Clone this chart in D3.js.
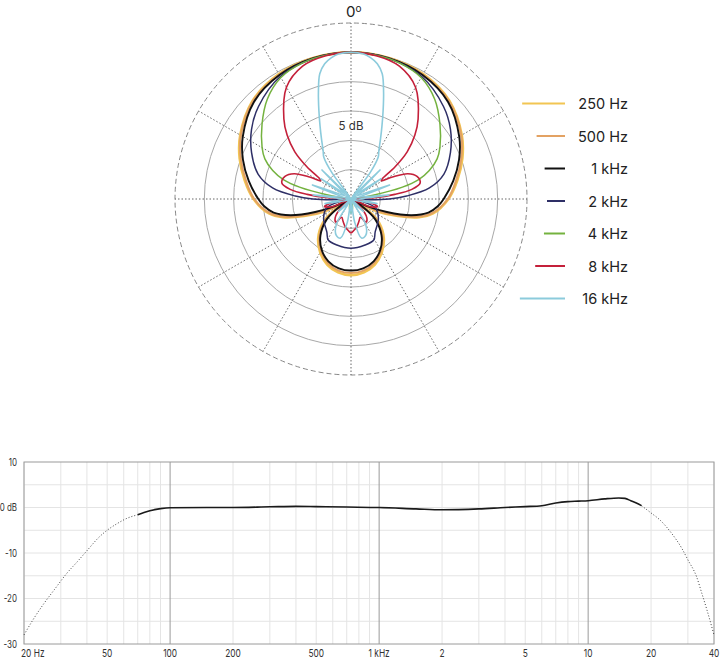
<!DOCTYPE html>
<html>
<head>
<meta charset="utf-8">
<script src="https://cdn.jsdelivr.net/npm/d3@7"></script>
<style>
  html, body { margin: 0; padding: 0; background: #fff; }
  svg { display: block; font-family: Inter, "Noto Sans", sans-serif; }
</style>
</head>
<body>
<svg id="chart" width="720" height="659"></svg>
<script>
// ---------------- DATA ----------------
// Polar pattern: [angle in degrees (0 = front), level in dB], right half (0..180), mirrored for the left half
const seriesLabels = ["250 Hz", "500 Hz", "1 kHz", "2 kHz", "4 kHz", "8 kHz", "16 kHz"];
const pattern250 = [[0,0],[15,-0.1],[30,-0.4],[45,-1.3],[60,-3.2],[70,-4.8],[80,-6.6],[90,-8.4],[100,-10.8],[105,-13],[110,-16.5],[115,-20],[120,-25],[125,-21],[130,-18.8],[140,-16.3],[150,-14.5],[160,-13.1],[170,-12.3],[180,-12]];
const pattern500 = [[0,0],[15,-0.1],[30,-0.5],[45,-1.4],[60,-3.3],[70,-5],[80,-6.8],[90,-8.5],[100,-11],[105,-13.3],[110,-17],[115,-21],[119,-25],[125,-21.5],[130,-19.2],[140,-16.6],[150,-14.8],[160,-13.4],[170,-12.6],[180,-12.4]];
const pattern1k = [[0,0],[15,-0.15],[30,-0.6],[45,-1.6],[60,-3.7],[70,-5.4],[80,-7.3],[90,-9.2],[95,-10.2],[100,-11.6],[105,-14.3],[110,-18.5],[114,-22],[118,-25],[124,-22.5],[130,-19.6],[140,-16.9],[150,-15],[160,-13.7],[170,-13],[180,-12.8]];
const pattern2k = [[0,0],[15,-0.2],[30,-0.9],[45,-2.7],[55,-4.3],[65,-6.3],[75,-8.6],[82,-11.5],[87,-15.5],[90,-18.5],[93,-23],[96,-25],[104,-22.5],[110,-20.6],[125,-19.3],[144,-18],[151,-17],[163,-16.8],[180,-16.6]];
const pattern4k = [[0,0],[10,-0.1],[20,-0.4],[30,-1.1],[40,-2.8],[50,-5.2],[60,-7.5],[65,-8.8],[70,-10.8],[74,-13],[77,-16],[80,-21],[83,-25],[100,-25],[160,-25],[170,-23.5],[180,-22.6]];
const pattern8k = [[0,0],[10,-0.2],[20,-0.9],[30,-3],[40,-7.2],[45,-9.6],[50,-12.5],[54,-15.8],[57,-18.6],[59,-19],[62,-17],[66,-14.4],[71,-13.1],[77,-12.9],[81,-14.5],[84,-17.5],[87,-21],[90,-25],[100,-22],[106,-20.3],[112,-21.5],[118,-25],[130,-23],[140,-20.8],[147,-20.3],[153,-21.5],[160,-21],[168,-20.2],[175,-19.6],[180,-19.2]];
const pattern16k = [[0,0],[5,-0.2],[8,-0.7],[11,-1.5],[14,-3],[17,-6],[20,-9],[23,-11.5],[26,-13.5],[30,-15.5],[33,-16.5],[36,-19.5],[39,-25],[45,-18],[50,-25],[56,-18.8],[62,-25],[70,-18],[77,-25],[84,-18.5],[90,-25],[100,-20.5],[107,-25],[135,-22],[142,-25],[150,-20],[158,-18.3],[165,-18.1],[171,-21],[175,-25],[180,-22.5]];
const patterns = [pattern250, pattern500, pattern1k, pattern2k, pattern4k, pattern8k, pattern16k];
const ringLevels = [-20, -15, -10, -5, 0];
const outerLevel = 5;
const spokeAngles = [0, 30, 60, 90, 120, 150, 180, 210, 240, 270, 300, 330];

// Frequency response
const frLowFreq = [20, 22, 25, 28, 32, 36, 40, 46, 50, 56, 62, 70];
const frLowDb = [-28, -24.8, -21, -18, -14.5, -11.9, -9.5, -6.4, -5, -3.5, -2.4, -1.6];
const frMainFreq = [70, 75, 80, 90, 100, 150, 200, 300, 400, 500, 700, 1000, 1500, 2000, 3000, 4000, 5000, 6000, 7000, 8000, 9000, 10000, 12000, 14000, 15000, 16000, 17000, 18000];
const frMainDb = [-1.6, -1.1, -0.7, -0.25, -0.05, 0, 0, 0.15, 0.25, 0.2, 0.1, 0, -0.3, -0.5, -0.3, 0, 0.2, 0.4, 1.0, 1.3, 1.4, 1.5, 1.9, 2.1, 2.0, 1.5, 1.0, 0.4];
const frHighFreq = [18000, 20000, 22000, 25000, 28000, 30000, 33000, 35000, 37000, 40000];
const frHighDb = [0.4, -1.2, -2.7, -5.6, -8.9, -11.5, -15.2, -18.9, -22.5, -28];
const xTickValues = [20, 50, 100, 200, 500, 1000, 2000, 5000, 10000, 20000, 40000];
const xTickLabels = ["20 Hz", "50", "100", "200", "500", "1 kHz", "2", "5", "10", "20", "40"];
const yTickValues = [10, 0, -10, -20, -30];
const yTickLabels = ["10", "0 dB", "-10", "-20", "-30"];

// ---------------- STYLE ----------------
const seriesColors = ["#f2c552", "#e3a263", "#111111", "#2e2f66", "#74b23f", "#c4203a", "#8ccbdc"];
const seriesWidths = [2.6, 2.1, 1.9, 1.5, 1.5, 1.6, 1.6];

const svg = d3.select("#chart");

// ---------------- POLAR ----------------
const cx = 351, cy = 199;
const rScale = d3.scaleLinear().domain([-25, 5]).range([0, 176]).clamp(true);
const gP = svg.append("g").attr("transform", `translate(${cx},${cy})`);

gP.selectAll("circle.ring").data(ringLevels).join("circle")
  .attr("r", d => rScale(d)).attr("fill", "none")
  .attr("stroke", "#a8a8a8").attr("stroke-width", 1);
gP.append("circle").attr("r", rScale(outerLevel)).attr("fill", "none")
  .attr("stroke", "#888").attr("stroke-width", 1).attr("stroke-dasharray", "5,3");
gP.selectAll("line.spoke").data(spokeAngles).join("line")
  .attr("x1", 0).attr("y1", 0)
  .attr("x2", d => rScale(outerLevel) * Math.sin(d * Math.PI / 180))
  .attr("y2", d => -rScale(outerLevel) * Math.cos(d * Math.PI / 180))
  .attr("stroke", "#555").attr("stroke-width", 0.9).attr("stroke-dasharray", "1.5,2");

// 5 dB label
gP.append("rect").attr("x", -13).attr("y", -rScale(-12.5) - 7).attr("width", 26).attr("height", 13).attr("fill", "#fff");
gP.append("text").attr("x", 0).attr("y", -rScale(-12.5)).attr("text-anchor", "middle")
  .attr("dominant-baseline", "central").attr("font-size", 11.5).attr("fill", "#333").text("5 dB");

// 0° label
const zl = svg.append("text").attr("x", cx - 5).attr("y", 17).attr("font-size", 15).attr("fill", "#222");
zl.append("tspan").text("0");
zl.append("tspan").attr("dy", -5).attr("font-size", 10).text("o");

const radial = d3.lineRadial()
  .angle(d => d[0] * Math.PI / 180)
  .radius(d => rScale(d[1]))
  .curve(d3.curveCatmullRomClosed.alpha(0.5));

function fullPattern(half) {
  const right = half.slice();
  const left = half.slice(1, -1).reverse().map(d => [360 - d[0], d[1]]);
  return right.concat(left);
}

gP.selectAll("path.pattern").data(patterns).join("path")
  .attr("d", d => radial(fullPattern(d)))
  .attr("fill", "none")
  .attr("stroke", (d, i) => seriesColors[i])
  .attr("stroke-width", (d, i) => seriesWidths[i])
  .attr("stroke-linejoin", "round");

// Legend
const legendY = d3.scaleLinear().domain([0, 6]).range([103.5, 298.5]);
const legendR = 196;
const lg = svg.append("g");
seriesLabels.forEach((lab, i) => {
  const y = legendY(i);
  const dy = y - cy;
  const x1 = cx + Math.sqrt(legendR * legendR - dy * dy);
  lg.append("line").attr("x1", x1).attr("x2", 565).attr("y1", y).attr("y2", y)
    .attr("stroke", seriesColors[i]).attr("stroke-width", 2);
  lg.append("text").attr("x", 628).attr("y", y).attr("text-anchor", "end")
    .attr("dominant-baseline", "central").attr("font-size", 14.5).attr("fill", "#222").text(lab);
});

// ---------------- FREQUENCY RESPONSE ----------------
const fx = d3.scaleLog().domain([20, 40000]).range([24, 714]);
const fy = d3.scaleLinear().domain([-30, 10]).range([644, 462]);
const gF = svg.append("g");

const minorFreqs = [];
[10, 100, 1000, 10000].forEach(dec => {
  for (let k = 2; k <= 9; k++) {
    const f = dec * k;
    if (f >= 20 && f <= 40000) minorFreqs.push(f);
  }
});
gF.selectAll("line.vminor").data(minorFreqs).join("line")
  .attr("x1", d => fx(d)).attr("x2", d => fx(d)).attr("y1", fy(10)).attr("y2", fy(-30))
  .attr("stroke", "#e4e4e4").attr("stroke-width", 1);
gF.selectAll("line.hminor").data(d3.range(-25, 10, 5)).join("line")
  .attr("x1", fx(20)).attr("x2", fx(40000)).attr("y1", d => fy(d)).attr("y2", d => fy(d))
  .attr("stroke", "#e4e4e4").attr("stroke-width", 1);
gF.selectAll("line.vmajor").data([100, 1000, 10000]).join("line")
  .attr("x1", d => fx(d)).attr("x2", d => fx(d)).attr("y1", fy(10)).attr("y2", fy(-30))
  .attr("stroke", "#9a9a9a").attr("stroke-width", 1);
gF.append("rect").attr("x", fx(20)).attr("y", fy(10))
  .attr("width", fx(40000) - fx(20)).attr("height", fy(-30) - fy(10))
  .attr("fill", "none").attr("stroke", "#9a9a9a").attr("stroke-width", 1);

// tick labels (slightly condensed like the reference)
const condense = 0.76;
gF.selectAll("text.xl").data(xTickValues).join("text")
  .attr("transform", (d, i) => `translate(${i === 0 ? fx(d) - 3 : fx(d)},657) scale(${condense},1)`)
  .attr("text-anchor", (d, i) => i === 0 ? "start" : "middle")
  .attr("font-size", 11).attr("fill", "#333")
  .text((d, i) => xTickLabels[i]);
gF.selectAll("text.yl").data(yTickValues).join("text")
  .attr("transform", d => `translate(17,${fy(d)}) scale(${condense},1)`)
  .attr("text-anchor", "end").attr("dominant-baseline", "central")
  .attr("font-size", 10.5).attr("fill", "#333")
  .text((d, i) => yTickLabels[i]);

const frLine = d3.line().x(d => fx(d[0])).y(d => fy(d[1])).curve(d3.curveMonotoneX);
gF.append("path").attr("d", frLine(d3.zip(frLowFreq, frLowDb)))
  .attr("fill", "none").attr("stroke", "#444").attr("stroke-width", 1).attr("stroke-dasharray", "1,2");
gF.append("path").attr("d", frLine(d3.zip(frHighFreq, frHighDb)))
  .attr("fill", "none").attr("stroke", "#444").attr("stroke-width", 1).attr("stroke-dasharray", "1,2");
gF.append("path").attr("d", frLine(d3.zip(frMainFreq, frMainDb)))
  .attr("fill", "none").attr("stroke", "#1a1a1a").attr("stroke-width", 1.6);
</script>
</body>
</html>
